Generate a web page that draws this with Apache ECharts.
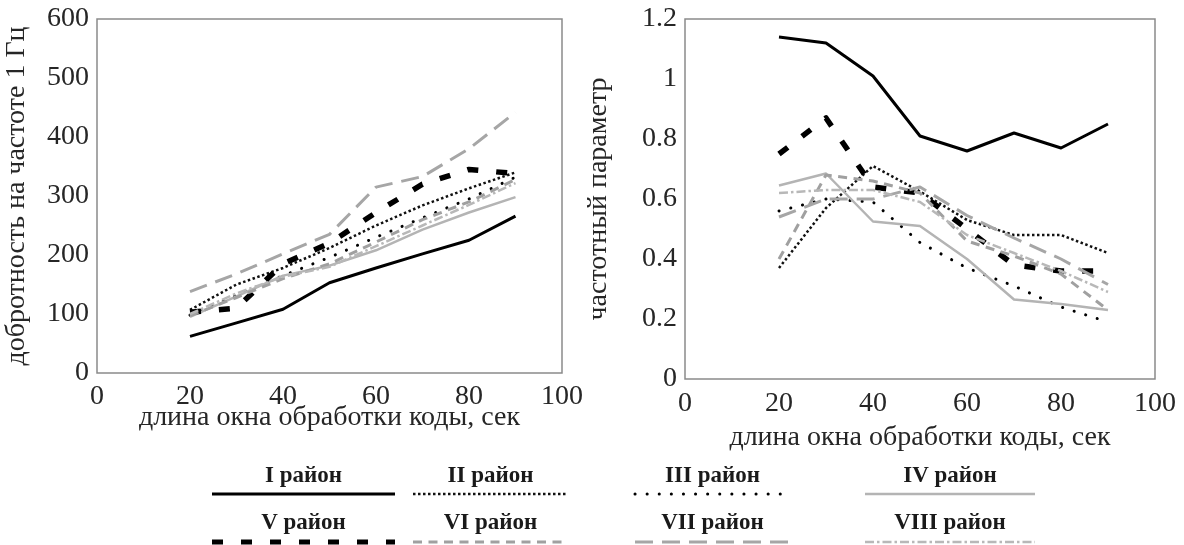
<!DOCTYPE html>
<html>
<head>
<meta charset="utf-8">
<script src="https://cdn.jsdelivr.net/npm/echarts@6/dist/echarts.min.js"></script>
<style>
  html, body { margin: 0; padding: 0; background: #fff; }
  #chart { width: 1184px; height: 545px; }
</style>
</head>
<body>
<div id="chart"></div>
<script>
// Window lengths, seconds
const windowLengths = [20, 30, 40, 50, 60, 70, 80, 90];

// Q-factor at 1 Hz, by district
const qualityI    = [62, 85, 108, 153, 178, 202, 225, 266];
const qualityII   = [107, 150, 178, 212, 250, 284, 313, 340];
const qualityIII  = [98, 132, 165, 196, 230, 263, 295, 332];
const qualityIV   = [95, 130, 165, 182, 208, 243, 272, 298];
const qualityV    = [103, 110, 185, 220, 272, 320, 345, 338];
const qualityVI   = [97, 128, 160, 185, 222, 260, 290, 328];
const qualityVII  = [138, 168, 202, 235, 315, 333, 380, 442];
const qualityVIII = [100, 135, 163, 180, 215, 250, 285, 322];

// Frequency parameter, by district
const freqI    = [1.14, 1.12, 1.01, 0.81, 0.76, 0.82, 0.77, 0.85];
const freqII   = [0.37, 0.57, 0.71, 0.625, 0.53, 0.48, 0.48, 0.42];
const freqIII  = [0.56, 0.60, 0.59, 0.455, 0.37, 0.31, 0.24, 0.19];
const freqIV   = [0.645, 0.685, 0.525, 0.51, 0.40, 0.265, 0.25, 0.23];
const freqV    = [0.75, 0.87, 0.64, 0.62, 0.50, 0.38, 0.36, 0.36];
const freqVI   = [0.40, 0.68, 0.66, 0.62, 0.46, 0.41, 0.35, 0.23];
const freqVII  = [0.54, 0.60, 0.60, 0.64, 0.545, 0.47, 0.40, 0.315];
const freqVIII = [0.62, 0.63, 0.63, 0.59, 0.48, 0.42, 0.36, 0.29];

const districtNames = ['I район', 'II район', 'III район', 'IV район',
                       'V район', 'VI район', 'VII район', 'VIII район'];
const qualitySeries = [qualityI, qualityII, qualityIII, qualityIV,
                       qualityV, qualityVI, qualityVII, qualityVIII];
const freqSeries = [freqI, freqII, freqIII, freqIV,
                    freqV, freqVI, freqVII, freqVIII];

// Line appearance per district
const lineStyles = [
  { color: '#000000', width: 3,   type: 'solid',        cap: 'butt' },
  { color: '#111111', width: 2.5, type: [2.5, 2.5],     cap: 'butt' },
  { color: '#000000', width: 3,   type: [0.1, 12],      cap: 'round' },
  { color: '#b4b4b4', width: 2.5, type: 'solid',        cap: 'butt' },
  { color: '#000000', width: 5.5, type: [11, 18],       cap: 'butt' },
  { color: '#a0a0a0', width: 3,   type: [9, 6.5],       cap: 'butt' },
  { color: '#a6a6a6', width: 3,   type: [18, 9],        cap: 'butt' },
  { color: '#b8b8b8', width: 2.5, type: [9, 3, 2.5, 3], cap: 'butt' }
];

const FONT = '"Liberation Serif", "DejaVu Serif", serif';
const tickText = { fontFamily: FONT, fontSize: 28, color: '#262626' };
const titleText = { fontFamily: FONT, fontSize: 28, color: '#262626' };

function pairs(values) {
  return windowLengths.map((x, i) => [x, values[i]]);
}

const series = [];
[qualitySeries, freqSeries].forEach((group, axisIndex) => {
  group.forEach((vals, i) => {
    const s = lineStyles[i];
    series.push({
      name: districtNames[i], type: 'line',
      xAxisIndex: axisIndex, yAxisIndex: axisIndex,
      data: pairs(vals), symbol: 'none', silent: true,
      lineStyle: { color: s.color, width: s.width, type: s.type, cap: s.cap, join: 'round' }
    });
  });
});

// Legend: caption above a sample of each line, two rows of four
const legendCols = [
  { x1: 212, x2: 395 }, { x1: 413, x2: 568 },
  { x1: 635, x2: 790 }, { x1: 865, x2: 1035 }
];
const legendRows = [{ text: 476, line: 494 }, { text: 523, line: 542 }];
const graphic = [];
districtNames.forEach((name, i) => {
  const col = legendCols[i % 4];
  const row = legendRows[Math.floor(i / 4)];
  const s = lineStyles[i];
  graphic.push({
    type: 'text', x: (col.x1 + col.x2) / 2, y: row.text, silent: true,
    style: { text: name, font: 'bold 23px ' + FONT, fill: '#1a1a1a',
             textAlign: 'center', textVerticalAlign: 'middle' }
  });
  graphic.push({
    type: 'line', silent: true,
    shape: { x1: col.x1, y1: row.line, x2: col.x2, y2: row.line },
    style: { stroke: s.color, lineWidth: Math.min(s.width, 5),
             lineDash: Array.isArray(s.type) ? s.type : null, lineCap: s.cap }
  });
});

function xAxis(gridIndex, labelMargin, nameGap) {
  return {
    type: 'value', gridIndex, min: 0, max: 100, interval: 20,
    name: 'длина окна обработки коды, сек', nameLocation: 'middle', nameGap,
    nameMoveOverlap: false,
    nameTextStyle: titleText,
    axisLine: { show: false }, axisTick: { show: false }, splitLine: { show: false },
    axisLabel: Object.assign({ margin: labelMargin }, tickText)
  };
}

function yAxis(gridIndex, max, interval, name, nameGap) {
  return {
    type: 'value', gridIndex, min: 0, max, interval,
    name, nameLocation: 'middle', nameGap,
    nameMoveOverlap: false,
    nameTextStyle: titleText,
    axisLine: { show: false }, axisTick: { show: false }, splitLine: { show: false },
    axisLabel: Object.assign({ margin: 8 }, tickText)
  };
}

const option = {
  animation: false,
  backgroundColor: '#ffffff',
  grid: [
    { left: 97, right: 622, top: 19, bottom: 172, show: true,
      borderColor: '#8a8a8a', borderWidth: 1.5, backgroundColor: 'transparent' },
    { left: 685, right: 29, top: 19, bottom: 166, show: true,
      borderColor: '#8a8a8a', borderWidth: 1.5, backgroundColor: 'transparent' }
  ],
  xAxis: [xAxis(0, 10, 31), xAxis(1, 11, 45)],
  yAxis: [
    yAxis(0, 600, 100, 'добротность на частоте 1 Гц', 66),
    yAxis(1, 1.2, 0.2, 'частотный параметр', 72)
  ],
  graphic,
  series
};

const chart = echarts.init(document.getElementById('chart'), null, { renderer: 'canvas' });
chart.setOption(option);
</script>
</body>
</html>
